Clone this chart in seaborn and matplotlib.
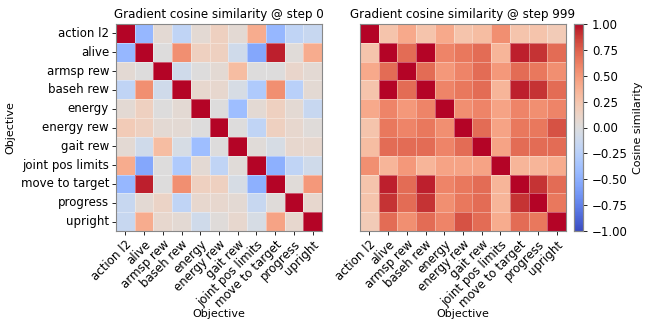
import numpy as np
import pandas as pd
import matplotlib
matplotlib.use("Agg")
import matplotlib.pyplot as plt
import seaborn as sns

objectives = ["action l2", "alive", "armsp rew", "baseh rew", "energy", "energy rew",
              "gait rew", "joint pos limits", "move to target", "progress", "upright"]

sim_step0 = [
    [1.00, -0.45, 0.05, -0.20, 0.05, 0.15, 0.05, 0.40, -0.45, -0.20, -0.15],
    [-0.45, 1.00, 0.00, 0.55, 0.15, 0.15, -0.10, -0.55, 0.95, 0.03, 0.40],
    [0.05, 0.00, 1.00, -0.10, 0.00, 0.05, 0.30, 0.00, 0.00, 0.10, 0.05],
    [-0.20, 0.55, -0.10, 1.00, 0.08, 0.08, -0.05, -0.30, 0.55, -0.25, 0.05],
    [0.05, 0.15, 0.00, 0.05, 1.00, 0.00, -0.40, 0.05, 0.15, 0.05, -0.15],
    [0.20, 0.15, 0.05, 0.05, 0.00, 1.00, 0.00, -0.20, 0.15, 0.08, 0.02],
    [0.05, -0.10, 0.30, -0.05, -0.40, 0.00, 1.00, 0.03, -0.05, 0.08, 0.08],
    [0.40, -0.55, 0.00, -0.30, 0.05, -0.20, 0.03, 1.00, -0.50, -0.20, -0.10],
    [-0.45, 0.95, 0.00, 0.55, 0.15, 0.15, -0.05, -0.50, 1.00, 0.03, 0.50],
    [-0.15, 0.05, 0.12, -0.20, 0.08, 0.08, 0.05, -0.15, 0.02, 1.00, 0.08],
    [-0.15, 0.40, 0.08, 0.05, -0.10, 0.02, 0.08, -0.05, 0.45, 0.08, 1.00],
]

sim_step999 = [
    [1.00, 0.25, 0.42, 0.25, 0.42, 0.25, 0.30, 0.55, 0.25, 0.25, 0.20],
    [0.25, 1.00, 0.70, 1.00, 0.60, 0.65, 0.70, 0.35, 0.95, 0.90, 0.70],
    [0.42, 0.70, 1.00, 0.70, 0.50, 0.60, 0.70, 0.50, 0.70, 0.65, 0.55],
    [0.25, 1.00, 0.70, 1.00, 0.60, 0.65, 0.70, 0.35, 0.95, 0.90, 0.70],
    [0.42, 0.60, 0.50, 0.60, 1.00, 0.55, 0.60, 0.45, 0.60, 0.55, 0.60],
    [0.25, 0.65, 0.60, 0.65, 0.55, 1.00, 0.70, 0.45, 0.65, 0.65, 0.80],
    [0.30, 0.70, 0.70, 0.70, 0.60, 0.70, 1.00, 0.45, 0.70, 0.70, 0.70],
    [0.55, 0.35, 0.50, 0.35, 0.45, 0.45, 0.45, 1.00, 0.35, 0.35, 0.40],
    [0.25, 0.95, 0.70, 0.95, 0.60, 0.65, 0.70, 0.35, 1.00, 0.90, 0.70],
    [0.25, 0.90, 0.70, 0.90, 0.55, 0.65, 0.70, 0.35, 0.90, 1.00, 0.65],
    [0.20, 0.70, 0.55, 0.70, 0.60, 0.80, 0.70, 0.40, 0.70, 0.65, 1.00],
]

titles = ["Gradient cosine similarity @ step 0", "Gradient cosine similarity @ step 999"]

FS = 8.5
LFS = 8.0
plt.rcParams["font.family"] = ["DejaVu Sans"]
plt.rcParams["font.size"] = FS

fig = plt.figure(figsize=(6.48, 3.22), dpi=100)
W, H = 648, 322
def ax_px(x0, y0, x1, y1):
    return fig.add_axes([x0 / W, 1 - y1 / H, (x1 - x0) / W, (y1 - y0) / H])

ax1 = ax_px(116, 24, 322, 231)
ax2 = ax_px(360, 24, 566, 231)
cax = ax_px(574, 24, 583, 231)

for i, (ax, mat) in enumerate(zip([ax1, ax2], [sim_step0, sim_step999])):
    df = pd.DataFrame(mat, index=objectives, columns=objectives)
    sns.heatmap(df, ax=ax, cmap="coolwarm", vmin=-1, vmax=1, square=False,
                linewidths=0.4, linecolor=(1, 1, 1, 0.35),
                cbar=(i == 1), cbar_ax=cax if i == 1 else None,
                cbar_kws={"label": "Cosine similarity"} if i == 1 else None)
    ax.set_title(titles[i], fontsize=8.6, pad=4)
    ax.set_xlabel("Objective", fontsize=LFS)
    ax.xaxis.set_label_coords(0.5, -0.375)
    ax.set_xticklabels(objectives, rotation=45, ha="right", rotation_mode="anchor", fontsize=FS)
    ax.tick_params(axis="both", length=3, width=0.6, pad=2)
    for s in ax.spines.values():
        s.set_visible(True)
        s.set_color("#888888")
        s.set_linewidth(0.8)
    if i == 0:
        ax.set_ylabel("Objective", fontsize=LFS)
        ax.set_yticklabels(objectives, rotation=0, fontsize=FS)
    else:
        ax.set_ylabel("")
        ax.set_yticks([])

cax.tick_params(labelsize=FS, length=3, width=0.6)
cax.set_yticks([-1, -0.75, -0.5, -0.25, 0, 0.25, 0.5, 0.75, 1])
cax.set_yticklabels(["\u22121.00", "\u22120.75", "\u22120.50", "\u22120.25", "0.00", "0.25", "0.50", "0.75", "1.00"])
cax.yaxis.label.set_size(LFS)
for s in cax.spines.values():
    s.set_visible(True)
    s.set_color("#888888")
    s.set_linewidth(0.8)

fig.savefig("out.png", dpi=100)
